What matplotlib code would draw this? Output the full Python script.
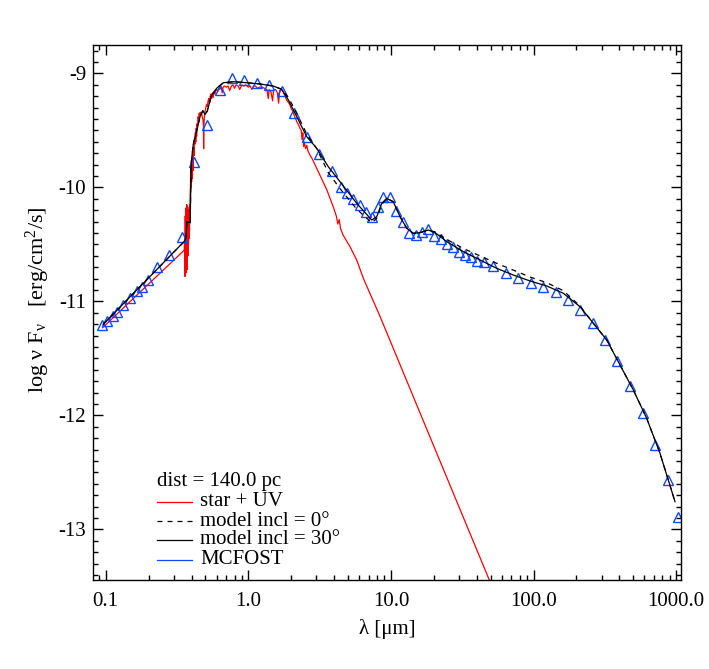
import matplotlib
matplotlib.use('Agg')
import matplotlib.pyplot as plt
from matplotlib.lines import Line2D
from matplotlib.ticker import FixedLocator, FixedFormatter, LogLocator, MultipleLocator, NullFormatter

plt.rcParams['font.family'] = ['Liberation Serif', 'DejaVu Serif']
plt.rcParams['mathtext.fontset'] = 'custom'
plt.rcParams['mathtext.rm'] = 'Liberation Serif'
plt.rcParams['mathtext.it'] = 'Liberation Serif:italic'
plt.rcParams['axes.unicode_minus'] = False

# ---------------- data ----------------
# star + UV spectrum (red)
star_wave = [0.095, 0.355, 0.358, 0.3595, 0.361, 0.3625, 0.364, 0.3655, 0.367, 0.3685,
             0.370, 0.3715, 0.373, 0.3745, 0.376, 0.3775, 0.379, 0.3805, 0.382, 0.3835,
             0.385, 0.3865, 0.388, 0.3895, 0.391, 0.3925, 0.394, 0.396, 0.398, 0.400,
             0.403, 0.405, 0.408, 0.410, 0.413, 0.416, 0.419, 0.422, 0.425, 0.428,
             0.431, 0.434, 0.437, 0.440, 0.444, 0.448, 0.452, 0.456, 0.460, 0.465,
             0.470, 0.475, 0.480, 0.484, 0.486, 0.488, 0.492, 0.497, 0.503, 0.510,
             0.516, 0.522, 0.528, 0.534, 0.540, 0.547, 0.553, 0.560, 0.567, 0.575,
             0.583, 0.590, 0.600, 0.610, 0.620, 0.630, 0.645, 0.656, 0.665, 0.68,
             0.70, 0.72, 0.74, 0.76, 0.78, 0.80, 0.82, 0.85, 0.87, 0.90,
             0.93, 0.96, 1.00, 1.03, 1.06, 1.09, 1.12, 1.16, 1.20, 1.25,
             1.30, 1.35, 1.38, 1.40, 1.44, 1.48, 1.50, 1.55, 1.60, 1.63,
             1.66, 1.70, 1.75, 1.80, 1.85, 1.90, 1.95, 2.00, 2.05, 2.10,
             2.15, 2.20, 2.25, 2.30, 2.35, 2.38, 2.41, 2.44, 2.47, 2.52,
             2.57, 2.62, 2.67, 2.72, 2.81, 3.01, 3.25, 3.55, 3.94, 4.14,
             4.24, 4.34, 4.43, 4.63, 5.17, 5.77, 6.42, 8.38, 49.6, 58.0]
star_flux = [-11.23, -10.55, -10.45, -10.78, -10.25, -10.70, -10.18, -10.75, -10.20, -10.65,
             -10.15, -10.72, -10.22, -10.55, -10.17, -10.60, -10.25, -10.50, -10.20, -10.45,
             -10.22, -10.38, -10.15, -10.30, -10.05, -10.00, -9.88, -10.00, -9.82, -9.95,
             -9.78, -9.92, -9.70, -9.85, -9.65, -9.72, -9.58, -9.62, -9.52, -9.60,
             -9.48, -9.55, -9.44, -9.47, -9.38, -9.40, -9.35, -9.37, -9.34, -9.36,
             -9.35, -9.38, -9.40, -9.45, -9.66, -9.45, -9.38, -9.33, -9.30, -9.27,
             -9.29, -9.24, -9.22, -9.26, -9.20, -9.18, -9.22, -9.17, -9.21, -9.16,
             -9.18, -9.15, -9.14, -9.16, -9.13, -9.14, -9.12, -9.17, -9.12, -9.11,
             -9.12, -9.11, -9.15, -9.11, -9.10, -9.13, -9.10, -9.11, -9.14, -9.10,
             -9.11, -9.10, -9.12, -9.11, -9.14, -9.11, -9.11, -9.13, -9.12, -9.12,
             -9.13, -9.14, -9.22, -9.14, -9.16, -9.24, -9.15, -9.14, -9.17, -9.26,
             -9.15, -9.14, -9.16, -9.19, -9.23, -9.25, -9.27, -9.31, -9.33, -9.37,
             -9.40, -9.43, -9.45, -9.48, -9.50, -9.58, -9.52, -9.64, -9.60, -9.66,
             -9.63, -9.68, -9.70, -9.72, -9.75, -9.83, -9.92, -10.02, -10.17, -10.25,
             -10.32, -10.28, -10.36, -10.42, -10.52, -10.64, -10.80, -11.13, -13.46, -13.66]

# MCFOST SED points (blue triangles)
obs_wave = [0.0934, 0.1013, 0.1125, 0.1200, 0.1311, 0.1481, 0.1644, 0.1783, 0.1989, 0.2301,
            0.2793, 0.3401, 0.4182, 0.5134, 0.6332, 0.7687, 0.9376, 1.151, 1.397, 1.715,
            2.081, 2.567, 3.131, 3.845, 4.468, 4.898, 5.448, 6.073, 6.658, 7.404,
            8.083, 8.847, 9.856, 10.86, 12.10, 13.46, 14.93, 16.60, 18.29, 20.16,
            22.36, 24.62, 27.13, 30.04, 33.09, 36.46, 40.36, 44.98, 52.26, 63.84,
            78.23, 95.59, 117.2, 143.1, 173.8, 211.9, 259.4, 317.3, 387.0, 475.0,
            583.2, 711.2, 873.4, 1036.0]
obs_flux = [-11.206, -11.175, -11.127, -11.088, -11.031, -10.969, -10.912, -10.873, -10.811, -10.697,
            -10.592, -10.434, -9.776, -9.452, -9.145, -9.039, -9.057, -9.083, -9.101, -9.154,
            -9.346, -9.557, -9.706, -9.853, -9.993, -10.051, -10.104, -10.154, -10.212, -10.261,
            -10.168, -10.081, -10.081, -10.206, -10.300, -10.402, -10.417, -10.388, -10.364, -10.425,
            -10.454, -10.498, -10.525, -10.563, -10.592, -10.612, -10.642, -10.656, -10.689, -10.747,
            -10.796, -10.835, -10.870, -10.914, -10.987, -11.075, -11.186, -11.338, -11.522, -11.741,
            -11.981, -12.259, -12.566, -12.888]

# models
model_wave = [0.096, 0.354, 0.367, 0.370, 0.391, 0.397, 0.411, 0.435, 0.458, 0.479,
              0.497, 0.515, 0.549, 0.599, 0.668, 0.785, 0.974, 1.208, 1.497, 1.715,
              1.908, 2.126, 2.567, 3.018, 3.638, 4.395, 5.757, 7.334, 7.950, 8.623,
              9.346, 10.39, 11.58, 12.91, 14.35, 16.00, 18.30, 20.39, 24.63, 32.20,
              42.16, 55.21, 72.19, 94.52, 123.8, 161.8, 211.9, 262.8, 326.3, 404.3,
              501.0, 621.9, 770.9, 982.2]
model30_flux = [-11.20, -10.475, -10.44, -10.30, -10.31, -9.79, -9.62, -9.50, -9.38, -9.326,
                -9.36, -9.33, -9.20, -9.13, -9.081, -9.072, -9.081, -9.092, -9.110, -9.139,
                -9.232, -9.349, -9.554, -9.656, -9.818, -9.949, -10.139, -10.285, -10.256, -10.139,
                -10.095, -10.125, -10.256, -10.358, -10.402, -10.396, -10.373, -10.396, -10.475, -10.563,
                -10.636, -10.709, -10.768, -10.820, -10.864, -10.928, -11.046, -11.191, -11.338, -11.557,
                -11.776, -12.025, -12.332, -12.756]
model0_flux = [-11.20, -10.475, -10.44, -10.30, -10.31, -9.79, -9.62, -9.50, -9.38, -9.326,
               -9.36, -9.33, -9.20, -9.13, -9.081, -9.072, -9.081, -9.092, -9.110, -9.139,
               -9.21, -9.32, -9.53, -9.66, -9.87, -10.01, -10.19, -10.31, -10.27, -10.15,
               -10.095, -10.125, -10.256, -10.358, -10.402, -10.396, -10.373, -10.39, -10.455, -10.535,
               -10.60, -10.665, -10.725, -10.785, -10.835, -10.905, -11.04, -11.191, -11.338, -11.557,
               -11.776, -12.025, -12.332, -12.756]

xtick_vals = [0.1, 1.0, 10.0, 100.0, 1000.0]
xtick_labels = ['0.1', '1.0', '10.0', '100.0', '1000.0']
ytick_vals = [-13, -12, -11, -10, -9]
ytick_labels = ['-13', '-12', '-11', '-10', '-9']

legend_labels = ['dist = 140.0 pc', 'star + UV', 'model incl = 0°', 'model incl = 30°', 'MCFOST']

# ---------------- plot ----------------
W, H = 709, 669
fig = plt.figure(figsize=(W / 100, H / 100), dpi=100)
ax = fig.add_axes([93 / W, 1 - 580 / H, 588 / W, 535 / H])
ax.set_xscale('log')

blue = '#1048ff'
ax.plot(star_wave, star_flux, color='#ff0000', lw=0.9)
ax.plot(obs_wave, obs_flux, ls='none', marker='^', ms=7.5, mfc='none', mec=blue, mew=1.0)
ax.plot(model_wave, model0_flux, color='black', lw=0.9, dashes=(4, 4))
ax.plot(model_wave, model30_flux, color='black', lw=0.9)

ax.set_xlim(0.0814, 1082)
ax.set_ylim(-13.443, -8.75)

ax.xaxis.set_major_locator(FixedLocator(xtick_vals))
ax.xaxis.set_major_formatter(FixedFormatter(xtick_labels))
ax.xaxis.set_minor_locator(LogLocator(base=10, subs=[2, 3, 4, 5, 6, 7, 8, 9], numticks=20))
ax.xaxis.set_minor_formatter(NullFormatter())
ax.yaxis.set_major_locator(FixedLocator(ytick_vals))
ax.yaxis.set_major_formatter(FixedFormatter(ytick_labels))
ax.yaxis.set_minor_locator(MultipleLocator(0.1))

ax.tick_params(which='both', direction='in', top=True, right=True, width=1.0, labelsize=15)
ax.tick_params(which='major', length=7.2)
ax.tick_params(which='minor', length=3.6)
ax.tick_params(axis='x', pad=9)
ax.tick_params(axis='y', pad=5)
for s in ax.spines.values():
    s.set_linewidth(1.0)

ax.set_xlabel('λ [μm]', fontsize=15)
ax.xaxis.set_label_coords(0.5, -0.073)
ax.set_ylabel(r'log ν F$_{\mathrm{ν}}$   [erg/cm$^{\mathrm{2}}$/s]', fontsize=16)
ax.yaxis.set_label_coords(-0.069, 0.524)

# legend (drawn manually, IDL style)
def fx(px):
    return px / W

def fy(py):
    return 1 - py / H

fig.text(fx(157), fy(481.7), legend_labels[0], fontsize=15, va='center', ha='left')
rows = [501.7, 521.0, 540.0, 560.0]
styles = [dict(color='#ff0000', lw=0.9), dict(color='black', lw=0.9, dashes=(4, 4)),
          dict(color='black', lw=0.9), dict(color=blue, lw=0.9)]
for ry, st, lab in zip(rows, styles, legend_labels[1:]):
    fig.add_artist(Line2D([fx(157), fx(192)], [fy(ry), fy(ry)], transform=fig.transFigure, **st))
    fig.text(fx(200), fy(ry), lab, fontsize=15, va='center', ha='left')

fig.savefig('out.png', dpi=100)
